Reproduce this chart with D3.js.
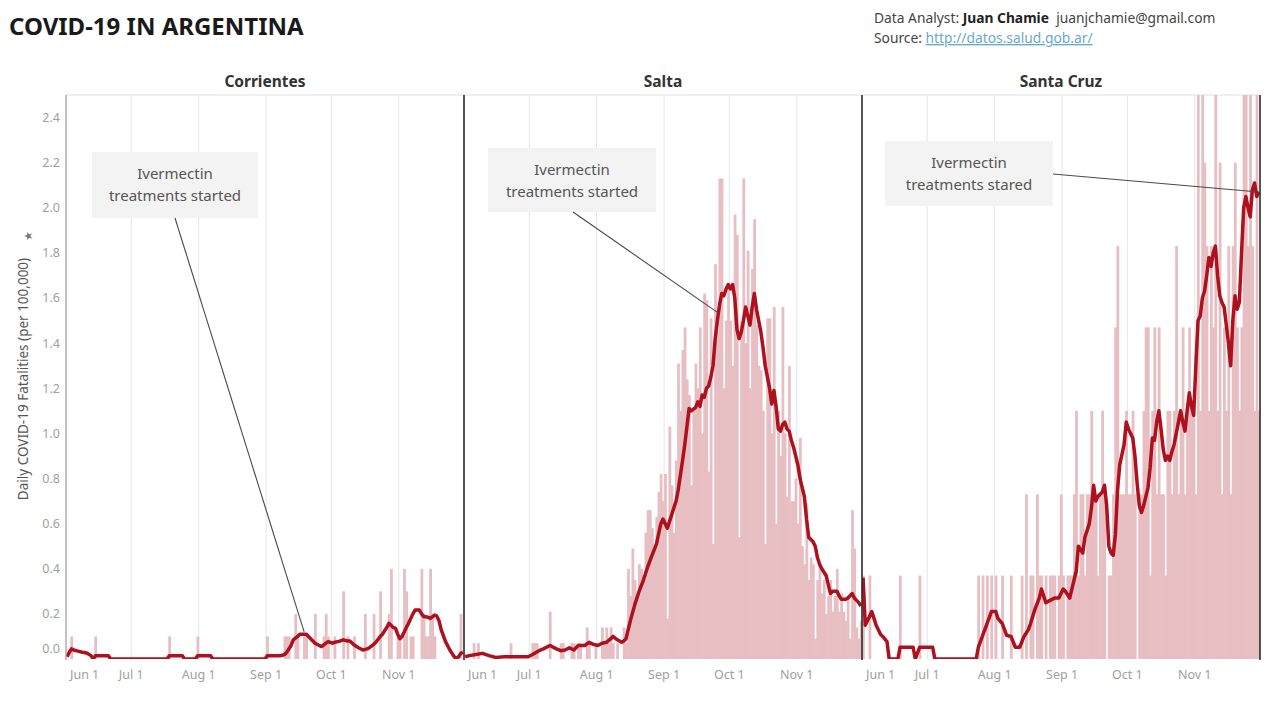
<!DOCTYPE html>
<html><head><meta charset="utf-8">
<script src="https://cdn.jsdelivr.net/npm/d3@7"></script>
<style>
body{margin:0;background:#fff;}
svg{display:block;font-family:"Noto Sans",sans-serif;}
</style>
</head><body>
<svg id="chart" width="1280" height="706"></svg>
<script>
// ---------------- DATA ----------------
const startDate = "2020-06-01";
const endDate = "2020-12-01";
const panelNames = ["Corrientes", "Salta", "Santa Cruz"];
const yTickValues = [0, 0.2, 0.4, 0.6, 0.8, 1.0, 1.2, 1.4, 1.6, 1.8, 2.0, 2.2, 2.4];
const monthTickDates = ["2020-06-01", "2020-07-01", "2020-08-01", "2020-09-01", "2020-10-01", "2020-11-01"];
const monthTickLabels = ["Jun 1", "Jul 1", "Aug 1", "Sep 1", "Oct 1", "Nov 1"];

// daily fatalities per 100,000 (index = days since Jun 1)
const corrientesBars = [
  0,0,0.1,0,0,0,0,0,0,0,
  0,0,0,0.1,0,0,0,0,0,0,
  0,0,0,0,0,0,0,0,0,0,
  0,0,0,0,0,0,0,0,0,0,
  0,0,0,0,0,0,0,0.1,0,0,
  0,0,0,0,0,0,0,0,0,0,
  0.1,0,0,0,0,0,0,0,0,0,
  0,0,0,0,0,0,0,0,0,0,
  0,0,0,0,0,0,0,0,0,0,
  0,0,0.1,0,0,0,0,0,0,0,
  0.1,0.1,0.1,0,0,0.2,0.1,0,0,0.1,
  0.1,0,0,0,0.2,0,0,0,0.1,0.2,
  0.1,0,0,0.1,0,0,0,0.3,0,0.1,
  0,0,0.1,0,0,0,0,0.2,0,0,
  0,0.2,0,0,0.3,0,0,0,0.2,0.4,
  0,0,0.1,0.1,0,0.4,0.3,0,0.1,0.1,
  0,0,0,0.4,0.2,0.1,0.1,0.4,0.2,0.1,
  0,0,0,0,0,0,0,0,0,0,
  0,0.2,0
];
const saltaBars = [
  0,0,0,0,0.07,0,0.07,0,0,0,
  0,0,0,0,0,0,0,0,0,0,
  0,0.07,0,0,0,0,0,0,0,0,
  0,0.07,0.07,0.07,0,0,0,0,0,0.21,
  0,0,0,0,0.07,0.07,0,0,0,0.07,
  0.07,0,0.07,0.07,0,0,0.14,0.07,0,0,
  0.07,0,0,0.14,0.07,0.14,0.07,0.14,0.07,0,
  0.07,0,0,0.14,0.07,0.4,0.28,0.49,0.35,0.28,
  0.42,0.4,0.35,0.56,0.66,0.66,0.58,0.49,0.63,0.74,
  0.82,0.7,0.82,0.18,1.03,0.77,0.56,0.88,1.31,1.1,
  1.37,1.47,1.24,1.17,0.77,1.1,1.31,1.2,1.47,1.0,
  1.62,1.59,0.83,1.51,0.51,1.75,1.45,2.13,2.13,1.2,
  1.5,1.65,1.5,1.3,1.97,1.88,0.54,1.5,2.13,1.4,
  1.81,1.2,1.73,1.95,1.48,1.3,1.28,1.1,0.51,1.51,
  1.51,1.0,1.56,0.6,1.1,0.9,1.56,1.0,0.72,1.3,
  0.7,0.7,0.8,0.6,0.98,0.5,0.42,0.69,0.35,0.45,
  0.42,0.09,0.35,0.42,0.29,0.35,0.2,0.28,0.35,0.21,
  0.28,0.4,0.21,0.29,0.21,0.17,0.28,0.09,0.66,0.49,
  0.14,0.09,0.17
];
const santaCruzBars = [
  0.37,0,0,0.37,0,0,0,0,0,0,
  0,0,0,0,0,0,0,0.37,0,0,
  0,0,0,0,0,0,0.37,0,0,0,
  0,0,0,0,0,0,0,0,0,0,
  0,0,0,0,0,0,0,0,0,0,
  0,0,0,0.37,0,0.37,0,0.37,0,0.37,
  0,0.37,0,0,0.37,0,0,0,0.37,0,
  0,0,0,0.37,0,0.73,0,0.37,0.37,0,
  0.73,0.37,0.37,0,0.37,0,0.37,0.37,0.37,0,
  0.37,0.73,0.37,0,0.37,0.37,0.37,0.73,1.1,0.37,
  0.73,0.73,0.37,0.73,0.73,1.1,0.73,0.73,0.37,0.73,
  1.1,0.73,0,0.37,0.37,0.73,1.47,1.83,0.73,0.73,
  0.73,1.1,0.73,0.73,1.1,0.73,0,0.73,0.73,1.1,
  1.47,1.47,0.37,1.1,1.47,0.73,1.47,0.73,0.73,0.37,
  1.1,1.1,0.73,1.1,1.83,0.73,1.1,1.47,0.73,1.1,
  1.47,1.1,1.1,0.73,2.57,1.1,2.57,2.2,1.83,1.1,
  1.83,1.47,2.57,1.1,2.2,0.73,1.47,1.1,1.83,0.73,
  1.83,2.2,1.47,1.1,1.47,3.3,2.94,1.83,2.57,1.83,
  1.1,2.57,1.1
];

// 7-day average line, read as [days since Jun 1, value]
const corrientesAvg = [[0,0.01],[1,0.03],[2,0.045],[3,0.04],[5,0.035],[7,0.03],[9,0.027],[11,0.015],[12,0],[13,0.014],[19,0.014],[20,0],[46,0],[47,0.014],[53,0.014],[54,0],[59,0],[60,0.014],[66,0.014],[67,0],[91,0],[92,0.014],[98,0.014],[100,0.02],[101,0.03],[103,0.06],[104,0.085],[106,0.1],[107,0.11],[110,0.11],[112,0.09],[114,0.07],[116,0.06],[117,0.055],[119,0.07],[120,0.077],[122,0.07],[123,0.074],[125,0.078],[127,0.085],[129,0.08],[130,0.08],[132,0.062],[134,0.05],[136,0.04],[138,0.045],[139,0.05],[141,0.065],[142,0.074],[144,0.1],[145,0.11],[147,0.14],[148,0.158],[150,0.14],[151,0.136],[152,0.11],[153,0.09],[154,0.1],[155,0.12],[156,0.14],[157,0.158],[159,0.2],[160,0.217],[162,0.217],[163,0.2],[164,0.188],[166,0.185],[167,0.18],[169,0.195],[170,0.19],[171,0.17],[172,0.13],[174,0.077],[176,0.04],[177,0.025],[178,0.01],[179,0.003],[180,0.01],[181,0.025],[182,0.03]];
const saltaAvg = [[0,0.01],[2,0.015],[5,0.02],[8,0.025],[11,0.015],[14,0.007],[18,0.01],[22,0.01],[26,0.01],[29,0.01],[31,0.02],[34,0.037],[36,0.045],[39,0.06],[42,0.045],[44,0.037],[46,0.04],[48,0.05],[50,0.04],[52,0.06],[55,0.06],[57,0.074],[59,0.065],[61,0.06],[63,0.07],[65,0.074],[67,0.09],[68,0.1],[70,0.085],[72,0.074],[73,0.08],[74,0.09],[76,0.17],[78,0.24],[80,0.3],[82,0.35],[84,0.41],[86,0.46],[88,0.51],[90,0.6],[91,0.62],[93,0.58],[95,0.64],[97,0.7],[98,0.75],[100,0.88],[101,0.95],[103,1.11],[104,1.1],[106,1.115],[107,1.14],[108,1.12],[109,1.17],[110,1.16],[111,1.2],[112,1.21],[113,1.25],[114,1.3],[115,1.42],[116,1.5],[117,1.57],[118,1.62],[119,1.61],[120,1.64],[121,1.66],[122,1.64],[123,1.66],[124,1.6],[125,1.46],[126,1.42],[127,1.45],[128,1.5],[129,1.56],[130,1.52],[131,1.48],[132,1.56],[133,1.62],[134,1.55],[135,1.5],[136,1.45],[137,1.38],[138,1.3],[139,1.25],[140,1.2],[141,1.13],[142,1.19],[143,1.12],[144,1.02],[145,1.01],[146,1.04],[147,1.05],[148,1.02],[149,1.01],[150,0.97],[151,0.94],[152,0.9],[153,0.86],[154,0.8],[155,0.76],[156,0.72],[157,0.62],[158,0.54],[159,0.53],[160,0.52],[161,0.5],[162,0.45],[163,0.42],[164,0.4],[166,0.37],[167,0.33],[168,0.29],[169,0.3],[171,0.3],[172,0.28],[173,0.265],[175,0.265],[176,0.27],[178,0.29],[179,0.27],[180,0.26],[181,0.25],[182,0.235]];
const santaCruzAvg = [[0,0.36],[1,0.15],[2,0.17],[4,0.21],[6,0.15],[8,0.11],[9,0.1],[11,0.077],[12,0],[16,0],[17,0.052],[23,0.052],[24,0],[26,0.052],[32,0.052],[33,0],[52,0],[53,0.052],[55,0.105],[57,0.157],[59,0.21],[61,0.21],[62,0.18],[64,0.157],[66,0.105],[68,0.1],[70,0.052],[72,0.052],[74,0.1],[76,0.13],[77,0.157],[79,0.22],[81,0.27],[82,0.31],[84,0.25],[86,0.26],[88,0.27],[90,0.27],[92,0.31],[93,0.3],[95,0.27],[96,0.31],[98,0.39],[99,0.5],[101,0.47],[102,0.54],[104,0.6],[105,0.67],[106,0.77],[107,0.7],[108,0.72],[110,0.74],[111,0.77],[112,0.68],[113,0.5],[114,0.47],[115,0.46],[116,0.55],[117,0.75],[118,0.86],[120,0.95],[121,1.05],[122,1.02],[124,0.98],[125,0.9],[126,0.78],[127,0.68],[128,0.65],[129,0.68],[131,0.76],[132,0.85],[133,0.98],[134,0.97],[135,1.05],[136,1.1],[137,1.02],[138,0.93],[139,0.88],[140,0.9],[141,0.88],[142,0.92],[143,0.95],[144,1.0],[145,1.05],[146,1.1],[147,1.05],[148,1.01],[149,1.1],[150,1.18],[151,1.12],[152,1.08],[153,1.3],[154,1.5],[155,1.52],[156,1.6],[157,1.63],[158,1.7],[159,1.78],[160,1.74],[161,1.8],[162,1.83],[163,1.7],[164,1.61],[165,1.58],[166,1.56],[167,1.48],[168,1.4],[169,1.3],[170,1.5],[171,1.61],[172,1.55],[173,1.58],[174,1.8],[175,2.0],[176,2.05],[177,2.0],[178,1.96],[179,2.08],[180,2.11],[181,2.05],[182,2.07]];

// annotation texts and the [day, value] each callout points to
const annotationLines = [
  ["Ivermectin", "treatments started"],
  ["Ivermectin", "treatments started"],
  ["Ivermectin", "treatments stared"]
];
const annotationTargets = [[109, 0.12], [117, 1.53], [182, 2.07]];

// ---------------- DRAW ----------------
const svg = d3.select("#chart");
const plotLeft = 66, plotRight = 1260, plotTop = 95, plotBottom = 659;
const panelW = (plotRight - plotLeft) / 3;

const parse = d3.timeParse("%Y-%m-%d");
const t0 = parse(startDate), t1 = parse(endDate);
const x = d3.scaleTime().domain([t0, t1]).range([0, panelW]);
const y = d3.scaleLinear().domain([0, 2.5]).range([plotBottom, plotTop]);
const dayDate = d => d3.timeHour.offset(d3.timeDay.offset(t0, d), 12);
const dayW = x(d3.timeDay.offset(t0, 1)) - x(t0);

const barsByPanel = [corrientesBars, saltaBars, santaCruzBars];
const avgByPanel = [corrientesAvg, saltaAvg, santaCruzAvg];

// Title
svg.append("text").attr("x", 9).attr("y", 35)
  .attr("font-size", 24).attr("font-weight", 700).attr("fill", "#1a1a1a")
  .text("COVID-19 IN ARGENTINA");

// Credits
const cr = svg.append("text").attr("x", 874).attr("y", 23).attr("font-size", 13.8).attr("fill", "#444");
cr.append("tspan").text("Data Analyst: ");
cr.append("tspan").attr("font-weight", 700).attr("fill", "#222").text("Juan Chamie");
cr.append("tspan").text("\u00a0 juanjchamie@gmail.com");
const src = svg.append("text").attr("x", 874).attr("y", 43).attr("font-size", 13.8).attr("fill", "#444");
src.append("tspan").text("Source: ");
src.append("tspan").attr("fill", "#6aaacb").attr("text-decoration", "underline").text("http://datos.salud.gob.ar/");

// Y axis title
svg.append("text")
  .attr("transform", `translate(28,${(plotTop + plotBottom) / 2 + 2}) rotate(-90)`)
  .attr("text-anchor", "middle").attr("font-size", 13.5).attr("fill", "#555")
  .text("Daily COVID-19 Fatalities (per 100,000)");
svg.append("text")
  .attr("transform", `translate(28,236) rotate(-90)`)
  .attr("text-anchor", "middle").attr("font-size", 11).attr("fill", "#777")
  .attr("dy", "0.35em")
  .text("\u2605");

// Y ticks
const yAxis = svg.append("g");
yAxis.selectAll("text").data(yTickValues).join("text")
  .attr("x", 60).attr("y", d => d === 0 ? y(d) - 10 : y(d))
  .attr("dy", "0.35em").attr("text-anchor", "end")
  .attr("font-size", 12.5).attr("fill", "#a0a0a0")
  .text(d => d3.format(".1f")(d));

// top border
svg.append("line").attr("x1", plotLeft).attr("x2", plotRight).attr("y1", plotTop).attr("y2", plotTop)
  .attr("stroke", "#e0e0e0");

const defs = svg.append("defs");

panelNames.forEach((name, i) => {
  const left = plotLeft + i * panelW;
  const g = svg.append("g").attr("transform", `translate(${left},0)`);

  defs.append("clipPath").attr("id", "clip" + i)
    .append("rect").attr("x", 0).attr("y", plotTop).attr("width", panelW).attr("height", plotBottom - plotTop);

  // panel title
  svg.append("text").attr("x", left + panelW / 2).attr("y", 87)
    .attr("text-anchor", "middle").attr("font-size", 15.5).attr("font-weight", 700).attr("fill", "#333")
    .text(name);

  // gridlines (month starts)
  g.selectAll("line.grid").data(monthTickDates.slice(1)).join("line")
    .attr("class", "grid")
    .attr("x1", d => x(parse(d))).attr("x2", d => x(parse(d)))
    .attr("y1", plotTop).attr("y2", plotBottom)
    .attr("stroke", "#e6e6e6").attr("stroke-width", 1);

  const inner = g.append("g").attr("clip-path", `url(#clip${i})`);

  // bars
  inner.selectAll("rect.bar").data(barsByPanel[i]).join("rect")
    .attr("class", "bar")
    .attr("x", (v, d) => x(dayDate(d)) - dayW / 2)
    .attr("width", dayW + 0.6)
    .attr("y", v => y(v))
    .attr("height", v => plotBottom - y(v))
    .attr("fill", "#e7bec2");

  // line
  const line = d3.line().x(p => x(dayDate(p[0]))).y(p => y(p[1])).curve(d3.curveLinear);
  inner.append("path").datum(avgByPanel[i])
    .attr("d", line).attr("fill", "none")
    .attr("stroke", "#ad111e").attr("stroke-width", 3.5)
    .attr("stroke-linejoin", "round");

  // x tick labels
  g.selectAll("text.xt").data(monthTickDates).join("text")
    .attr("class", "xt")
    .attr("x", (d, k) => k === 0 ? 4 : x(parse(d)))
    .attr("y", 679)
    .attr("text-anchor", (d, k) => k === 0 ? "start" : "middle")
    .attr("font-size", 12.5).attr("fill", "#a0a0a0")
    .text((d, k) => monthTickLabels[k]);
});

// panel borders
svg.append("line").attr("x1", plotLeft).attr("x2", plotLeft).attr("y1", plotTop).attr("y2", plotBottom + 1)
  .attr("stroke", "#9a9a9a").attr("stroke-width", 1.2);
[1, 2, 3].forEach(k => {
  const xx = plotLeft + k * panelW;
  svg.append("line").attr("x1", xx).attr("x2", xx).attr("y1", plotTop).attr("y2", plotBottom + 1)
    .attr("stroke", "#2a2a2a").attr("stroke-width", 1.6);
});

// annotations
const boxes = [
  {x: 92, y: 152, w: 166, h: 66, ax: 175, ay: 218},
  {x: 488, y: 148, w: 168, h: 64, ax: 573, ay: 212},
  {x: 885, y: 141, w: 168, h: 65, ax: 1053, ay: 174}
];
boxes.forEach((b, i) => {
  const left = plotLeft + i * panelW;
  const tx = left + x(dayDate(annotationTargets[i][0]));
  const ty = y(annotationTargets[i][1]);
  svg.append("rect").attr("x", b.x).attr("y", b.y).attr("width", b.w).attr("height", b.h)
    .attr("fill", "#f3f3f3");
  svg.append("line").attr("x1", b.ax).attr("y1", b.ay).attr("x2", tx).attr("y2", ty)
    .attr("stroke", "#4a4a4a").attr("stroke-width", 1.1);
  const t = svg.append("text").attr("text-anchor", "middle").attr("font-size", 15).attr("fill", "#555");
  annotationLines[i].forEach((s, k) => {
    t.append("tspan").attr("x", b.x + b.w / 2).attr("y", b.y + 27 + k * 22).text(s);
  });
});
</script>
</body></html>
